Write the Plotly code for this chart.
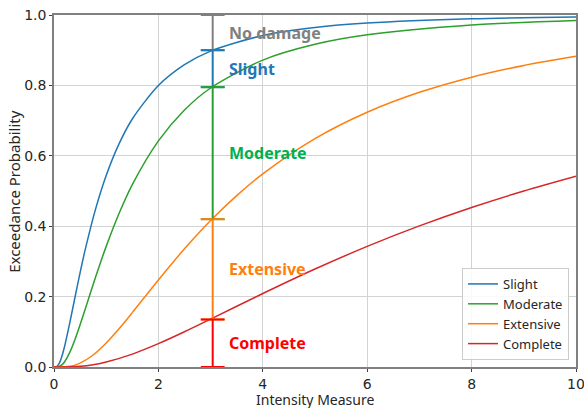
import plotly.graph_objects as go

# Fragility curves: probability of reaching or exceeding each damage state
slight_im = [0, 0.05, 0.1, 0.15, 0.2, 0.3, 0.4, 0.5, 0.6, 0.8, 1.0, 1.25, 1.5, 2.0, 2.5, 3, 4, 5, 6, 8, 10]
slight_p = [0, 0.0012, 0.0104, 0.0297, 0.0567, 0.1238, 0.1967, 0.2681, 0.3348, 0.4507, 0.5442,
            0.6353, 0.7046, 0.7997, 0.8589, 0.8975, 0.9418, 0.9645, 0.9771, 0.9893, 0.9944]

moderate_im = [0, 0.05, 0.1, 0.15, 0.2, 0.3, 0.4, 0.5, 0.6, 0.8, 1.0, 1.25, 1.5, 2, 2.5, 3, 4, 5, 6, 8, 10]
moderate_p = [0, 0.0001, 0.0015, 0.0060, 0.0141, 0.0407, 0.0773, 0.1200, 0.1654, 0.2569, 0.3427,
              0.4375, 0.5181, 0.6424, 0.7301, 0.7926, 0.8719, 0.9167, 0.9436, 0.9716, 0.9844]

extensive_im = [0, 0.1, 0.2, 0.3, 0.4, 0.5, 0.75, 1.0, 1.25, 1.5, 2, 2.5, 3, 3.5, 4, 5, 6, 7, 8, 9, 10]
extensive_p = [0, 0.0000, 0.0004, 0.0019, 0.0053, 0.0109, 0.0341, 0.0682, 0.1094, 0.1544, 0.2471,
               0.3358, 0.4161, 0.4869, 0.5488, 0.6488, 0.7237, 0.7803, 0.8234, 0.8567, 0.8826]

complete_im = [0, 0.25, 0.5, 0.75, 1, 1.5, 2, 2.5, 3, 4, 5, 6, 7, 8, 9, 10]
complete_p = [0, 0.0002, 0.0019, 0.0065, 0.0140, 0.0366, 0.0663, 0.1001, 0.1360, 0.2087, 0.2783,
              0.3426, 0.4008, 0.4531, 0.5000, 0.5420]

curve_names = ["Slight", "Moderate", "Extensive", "Complete"]
curve_colors = ["#1f77b4", "#2ca02c", "#ff7f0e", "#d62728"]

# Damage-state bands at a chosen intensity level
band_im = 3.04
band_edges = [1.0, 0.90, 0.795, 0.42, 0.135, 0.0]
band_names = ["No damage", "Slight", "Moderate", "Extensive", "Complete"]
band_line_colors = ["#808080", "#1f77b4", "#2ca02c", "#ff7f0e", "#ff0000"]
band_text_colors = ["#808080", "#1f77b4", "#00b050", "#ff7f0e", "#ff0000"]

x_ticks = [0, 2, 4, 6, 8, 10]
y_ticks = [0.0, 0.2, 0.4, 0.6, 0.8, 1.0]

fig = go.Figure()

for im, p, name, color in zip(
    [slight_im, moderate_im, extensive_im, complete_im],
    [slight_p, moderate_p, extensive_p, complete_p],
    curve_names, curve_colors,
):
    fig.add_trace(go.Scatter(
        x=im, y=p, mode="lines", name=name,
        line=dict(color=color, width=1.5, shape="spline", smoothing=0.8),
    ))

for i, (name, lc, tc) in enumerate(zip(band_names, band_line_colors, band_text_colors)):
    hi, lo = band_edges[i], band_edges[i + 1]
    fig.add_trace(go.Scatter(
        x=[band_im, band_im], y=[hi, lo], mode="lines+markers", showlegend=False,
        line=dict(color=lc, width=2),
        marker=dict(symbol="line-ew", size=17, line=dict(color=lc, width=2)),
        cliponaxis=False,
    ))
    fig.add_annotation(
        x=band_im + 0.28, y=(hi + lo) / 2, text=f"<b>{name}</b>", showarrow=False,
        xanchor="left", yanchor="middle",
        font=dict(family="Noto Sans", size=16, color=tc),
    )

axis_common = dict(
    showgrid=True, gridcolor="#d3d3d3", gridwidth=1,
    showline=True, linecolor="#808080", linewidth=1.5, mirror=True,
    ticks="outside", ticklen=3, tickcolor="#404040", tickwidth=1,
    tickfont=dict(family="DejaVu Sans", size=14, color="#262626"),
    zeroline=False, automargin=False, ticklabeloverflow="allow",
)

fig.update_xaxes(range=[0, 10], tickvals=x_ticks, ticktext=[str(v) for v in x_ticks], **axis_common)
fig.update_yaxes(range=[0, 1], tickvals=y_ticks, ticktext=[f"{v:.1f}" for v in y_ticks], **axis_common)

# Axis titles placed in paper coordinates
fig.add_annotation(
    x=0.5, y=-0.0935, xref="paper", yref="paper", text="Intensity Measure",
    showarrow=False, xanchor="center", yanchor="middle", borderpad=0,
    font=dict(family="Noto Sans", size=14, color="#262626"),
)
fig.add_annotation(
    x=-0.077, y=0.5, xref="paper", yref="paper", text="Exceedance Probability",
    showarrow=False, xanchor="center", yanchor="middle", textangle=-90,
    font=dict(family="Noto Sans", size=15, color="#262626"),
)

fig.update_layout(
    width=584, height=408,
    margin=dict(l=54, r=8, t=15, b=41, autoexpand=False),
    paper_bgcolor="white", plot_bgcolor="white",
    legend=dict(
        x=0.9866, y=0.02, xanchor="right", yanchor="bottom",
        bgcolor="rgba(255,255,255,0.85)", bordercolor="#cccccc", borderwidth=1,
        font=dict(family="Noto Sans", size=13, color="#262626"),
        tracegroupgap=0,
    ),
    showlegend=True,
)

fig.write_html("out.html")
